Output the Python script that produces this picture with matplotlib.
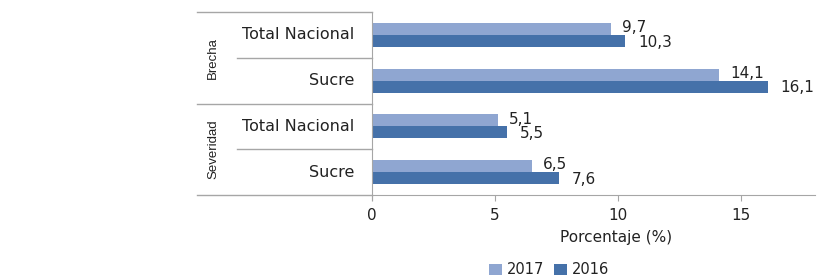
import matplotlib.pyplot as plt
import matplotlib.transforms as mtransforms
import numpy as np

groups = ['Brecha', 'Severidad']
categories = ['Total Nacional', 'Sucre', 'Total Nacional', 'Sucre']
years = ['2017', '2016']
values_2017 = [9.7, 14.1, 5.1, 6.5]
values_2016 = [10.3, 16.1, 5.5, 7.6]
xticks = [0, 5, 10, 15]

light = '#8FA6D1'
dark = '#4571A9'
txt = '#222222'
line_col = '#A6A6A6'

fig = plt.figure(figsize=(8.2, 2.76), dpi=100)
ax = fig.add_axes([372 / 820, 1 - 195 / 276, (815 - 372) / 820, (195 - 12) / 276])

y = np.arange(len(categories))
h = 0.26
b1 = ax.barh(y - h / 2, values_2017, h, color=light, label=years[0])
b2 = ax.barh(y + h / 2, values_2016, h, color=dark, label=years[1])

for yi, v in zip(y, values_2017):
    ax.annotate(f'{v:.1f}'.replace('.', ','), (v, yi - h / 2), xytext=(8, 1),
                textcoords='offset points', va='center', ha='left', fontsize=11, color=txt)
for yi, v in zip(y, values_2016):
    ax.annotate(f'{v:.1f}'.replace('.', ','), (v, yi + h / 2), xytext=(9, -1),
                textcoords='offset points', va='center', ha='left', fontsize=11, color=txt)

ax.set_xlim(0, 18)
ax.set_ylim(3.5, -0.5)
ax.set_xticks(xticks)
ax.tick_params(axis='x', length=4, color=line_col, labelsize=11, labelcolor=txt, pad=5)
ax.set_yticks([])
for s in ['top', 'right']:
    ax.spines[s].set_visible(False)
ax.spines['bottom'].set_color(line_col)
ax.spines['left'].set_color(line_col)
ax.spines['left'].set_bounds(3.6, -0.5)
ax.set_xlabel('Porcentaje (%)', fontsize=11, color=txt, labelpad=5)
ax.xaxis.set_label_coords((616 - 372) / 443, -0.19)

# category labels and separator lines on the left
trans = mtransforms.blended_transform_factory(fig.transFigure, ax.transData)
for yi, c in zip(y, categories):
    fig.text(354 / 820, 0, c, transform=trans, ha='right', va='center',
             fontsize=11.5, color=txt).set_y(yi)
for yb, x0 in [(-0.5, 197), (0.5, 237), (1.5, 197), (2.5, 237), (3.5, 197)]:
    ax.plot([x0 / 820, 372 / 820], [yb, yb], transform=trans, color=line_col,
            lw=1, clip_on=False)
for gi, g in enumerate(groups):
    fig.text(213 / 820, 0, g, transform=trans, rotation=90, ha='center', va='center',
             fontsize=9.5, color=txt, family=['Liberation Sans Narrow', 'Liberation Sans']).set_y(gi * 2 + 0.5)

fig.legend(handles=[b1, b2], loc='center', bbox_to_anchor=(549 / 820, 6 / 276), ncol=2,
           frameon=False, fontsize=10.5, handlelength=0.9, handleheight=0.8,
           handletextpad=0.3, columnspacing=0.7, labelcolor=txt)

fig.savefig('out.png', dpi=100)
